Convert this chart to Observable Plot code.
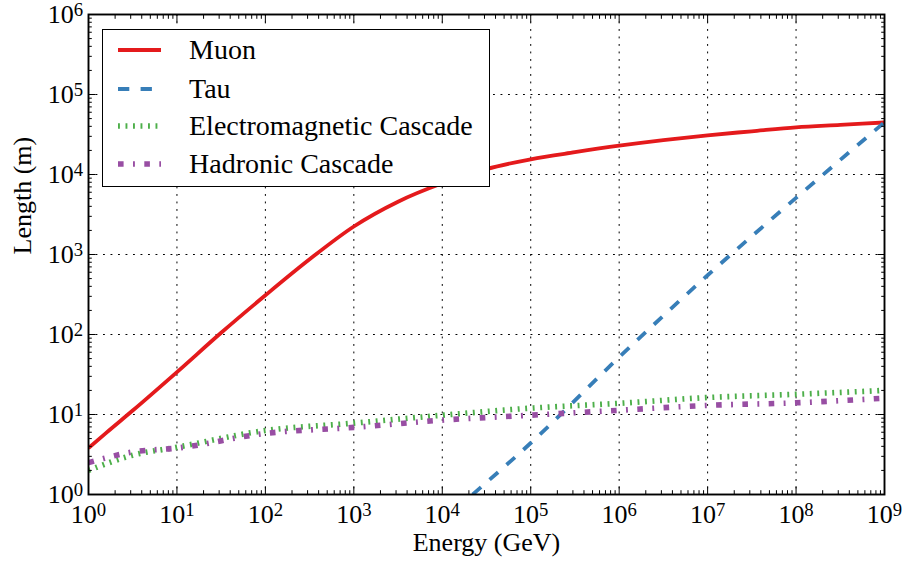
<!DOCTYPE html>
<html><head><meta charset="utf-8">
<script src="https://cdn.jsdelivr.net/npm/d3@7"></script>
<script src="https://cdn.jsdelivr.net/npm/@observablehq/plot@0.6"></script>
<style>
body{margin:0;background:#fff;}
#wrap{position:relative;width:907px;height:569px;font-family:'Liberation Serif', serif;}
#legend{position:absolute;left:102px;top:29px;width:386px;height:156px;border:1.9px solid #000;background:#fff;}
.row{position:absolute;left:0;height:30px;display:flex;align-items:center;}
.row svg{margin-left:15px;}
.row span{position:absolute;left:86px;font-size:28px;white-space:nowrap;color:#000;font-family:'Liberation Serif', serif;}
</style></head><body><div id="wrap"></div>
<script>
// ---- data ----
const muonEnergy = [1, 1.585, 3.16, 10, 31.6, 100, 316, 1e3, 3.16e3, 1e4, 3.16e4, 1e5, 3.16e5, 1e6, 3.16e6, 1e7, 3.16e7, 1e8, 3.16e8, 1e9];
const muonLength = [3.8, 5.9, 11.2, 33.9, 105, 309, 871, 2240, 4570, 7760, 11700, 15500, 19000, 22900, 26900, 30900, 34700, 38900, 41700, 44700];
const tauEnergy = [2.2e4, 1e5, 1e6, 1e7, 1e8, 1e9];
const tauLength = [1, 4.4, 52, 550, 5100, 45000];
const cascadeEnergy = [1, 3.16, 10, 100, 1e3, 1e4, 1e5, 1e6, 1e7, 1e8, 1e9];
const emLength = [2.0, 3.1, 3.9, 6.3, 7.8, 9.8, 12, 13.8, 16.3, 17.9, 20];
const hadLength = [2.5, 3.4, 3.8, 5.8, 6.9, 8.5, 9.8, 11.3, 13, 14, 16];
const seriesNames = ["Muon", "Tau", "Electromagnetic Cascade", "Hadronic Cascade"];
const seriesColors = ["#e41a1c", "#377eb8", "#4daf4a", "#984ea3"];
const seriesDash = [null, "11.3,11.3", "1.9,5.6", "5.6,9.4,1.9,9.4"];
const seriesWidth = [3.8, 3.8, 5.6, 5.6];
const xTicks = [1e0, 1e1, 1e2, 1e3, 1e4, 1e5, 1e6, 1e7, 1e8, 1e9];
const yTicks = [1e0, 1e1, 1e2, 1e3, 1e4, 1e5, 1e6];
const xLabel = "Energy (GeV)";
const yLabel = "Length (m)";

const toRows = (xs, ys) => xs.map((x, i) => ({x, y: ys[i]}));
const series = [
  toRows(muonEnergy, muonLength),
  toRows(tauEnergy, tauLength),
  toRows(cascadeEnergy, emLength),
  toRows(cascadeEnergy, hadLength)
];
const minorOf = (ticks) => ticks.slice(0, -1).flatMap(t => [2,3,4,5,6,7,8,9].map(m => m * t));
const xMinor = minorOf(xTicks), yMinor = minorOf(yTicks);
const fmt = d => "10^" + Math.round(Math.log10(d));
const none = () => "";
const FS = 26;
const FONT = "'Liberation Serif', serif";

const lineMarks = series.map((data, i) => Plot.line(data, {
  x: "x", y: "y", stroke: seriesColors[i], strokeWidth: seriesWidth[i],
  strokeDasharray: seriesDash[i], strokeLinecap: "butt", strokeLinejoin: "round",
  curve: "monotone-x", clip: true
}));

const plot = Plot.plot({
  width: 907, height: 569,
  marginLeft: 88, marginRight: 23, marginTop: 14, marginBottom: 75,
  style: {fontFamily: FONT, background: "#fff", color: "#000"},
  x: {type: "log", domain: [1, 1e9]},
  y: {type: "log", domain: [1, 1e6]},
  marks: [
    Plot.gridX(xTicks, {stroke: "#000", strokeOpacity: 1, strokeWidth: 1, strokeDasharray: "1.9,5.6"}),
    Plot.gridY(yTicks, {stroke: "#000", strokeOpacity: 1, strokeWidth: 1, strokeDasharray: "1.9,5.6"}),
    ...lineMarks,
    Plot.axisX(xTicks, {anchor: "bottom", tickSize: -7.5, tickPadding: 18, tickFormat: fmt, fontSize: FS, label: null}),
    Plot.axisX(xMinor, {anchor: "bottom", tickSize: -3.8, tickFormat: none, label: null}),
    Plot.axisX(xTicks, {anchor: "top", tickSize: -7.5, tickFormat: none, label: null}),
    Plot.axisX(xMinor, {anchor: "top", tickSize: -3.8, tickFormat: none, label: null}),
    Plot.axisY(yTicks, {anchor: "left", tickSize: -7.5, tickPadding: 13, tickFormat: fmt, fontSize: FS, label: null}),
    Plot.axisY(yMinor, {anchor: "left", tickSize: -3.8, tickFormat: none, label: null}),
    Plot.axisY(yTicks, {anchor: "right", tickSize: -7.5, tickFormat: none, label: null}),
    Plot.axisY(yMinor, {anchor: "right", tickSize: -3.8, tickFormat: none, label: null}),
    Plot.frame({stroke: "#000", strokeWidth: 1.9}),
    Plot.text([xLabel], {text: d => d, frameAnchor: "bottom", dy: 56, fontSize: FS, fill: "#000"}),
    Plot.text([yLabel], {text: d => d, frameAnchor: "left", dx: -66, rotate: -90, fontSize: FS, fill: "#000"})
  ]
});

// superscript exponents in tick labels
d3.select(plot).selectAll('g[aria-label="x-axis tick label"] text, g[aria-label="y-axis tick label"] text').each(function() {
  const t = d3.select(this);
  const s = t.text();
  if (!s.includes("^")) return;
  const k = s.split("^")[1];
  t.text("10");
  t.append("tspan").attr("dy", "-0.38em").attr("font-size", "0.72em").text(k);
});

const wrap = document.getElementById("wrap");
wrap.appendChild(plot);

// legend overlay
const legend = document.createElement("div");
legend.id = "legend";
const rowTops = [5, 44, 81, 119];
seriesNames.forEach((name, i) => {
  const row = document.createElement("div");
  row.className = "row";
  row.style.top = rowTops[i] + "px";
  const svg = d3.create("svg").attr("width", 44).attr("height", 30);
  svg.append("line").attr("x1", 0).attr("x2", 43).attr("y1", 15).attr("y2", 15)
    .attr("stroke", seriesColors[i]).attr("stroke-width", seriesWidth[i])
    .attr("stroke-dasharray", seriesDash[i]).attr("stroke-linecap", "butt");
  row.appendChild(svg.node());
  const sp = document.createElement("span");
  sp.textContent = name;
  row.appendChild(sp);
  legend.appendChild(row);
});
wrap.appendChild(legend);
</script>
</body></html>
